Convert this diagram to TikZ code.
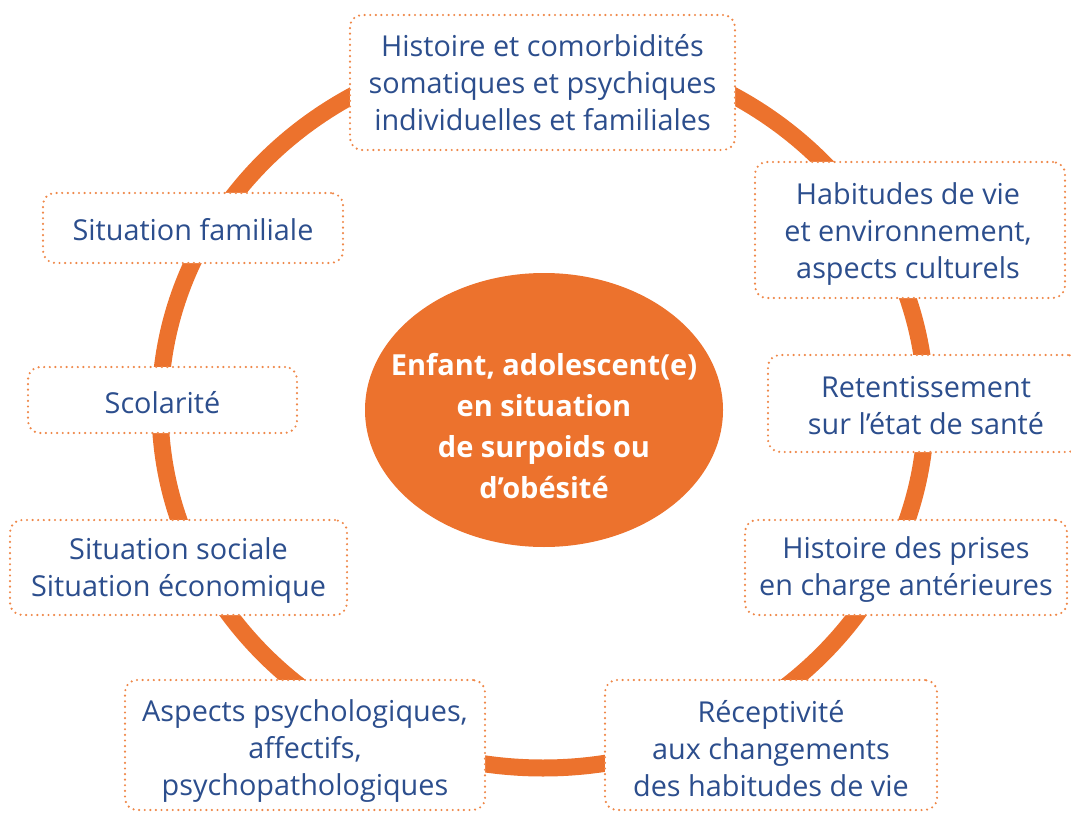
\documentclass[tikz,border=0pt]{standalone}
\usepackage{fontspec}
\setmainfont{Open Sans}
\usetikzlibrary{shapes.geometric}
\definecolor{ringorange}{HTML}{EC722D}
\definecolor{dotorange}{HTML}{EF8849}
\definecolor{textblue}{HTML}{2C4E8D}
\tikzset{
  frame/.style={rectangle, rounded corners=12pt, fill=white, draw=dotorange,
    line width=2.4pt, line cap=round, dash pattern=on 0pt off 5.6pt,
    inner sep=0pt},
  lbl/.style={align=center, text=textblue, inner sep=0pt,
    font=\fontsize{28.8}{37}\selectfont},
  centre/.style={ellipse, fill=ringorange, inner sep=0pt},
  centretext/.style={text=white, align=center, inner sep=0pt,
    font=\bfseries\fontsize{29}{41}\selectfont},
  ring/.style={draw=ringorange, line width=17pt}
}
\begin{document}
\begin{tikzpicture}[x=1pt,y=-1pt]
\useasboundingbox (0,0) rectangle (1071,813);
\clip (0,0) rectangle (1071,813);
% ring
\draw[ring] (543,408) ellipse [x radius=383, y radius=360];
% centre
\node[centre, minimum width=358pt, minimum height=274pt] (c) at (544,410) {};
\node[centretext] (ct) at (544,426)
  {Enfant, adolescent(e)\\en situation\\de surpoids ou\\d’obésité};
% frames
\node[frame, minimum width=385pt, minimum height=135pt] (t1) at (542.5,82.5) {};
\node[frame, minimum width=310pt, minimum height=136pt] (t2) at (910,230) {};
\node[frame, minimum width=312pt, minimum height=97pt] (t3) at (924,403.5) {};
\node[frame, minimum width=322pt, minimum height=95pt] (t4) at (906,567.5) {};
\node[frame, minimum width=332pt, minimum height=130pt] (t5) at (771,745) {};
\node[frame, minimum width=360pt, minimum height=130pt] (t6) at (305,745) {};
\node[frame, minimum width=337pt, minimum height=95pt] (t7) at (178.5,567.5) {};
\node[frame, minimum width=269pt, minimum height=66pt] (t8) at (162.5,400) {};
\node[frame, minimum width=300pt, minimum height=70pt] (t9) at (193,228) {};
% labels
\node[lbl] (l1) at (t1.center)
  {Histoire et comorbidités\\somatiques et psychiques\\individuelles et familiales};
\node[lbl] (l2) at ([xshift=-2pt,yshift=-4pt]t2.center)
  {Habitudes de vie\\et environnement,\\aspects culturels};
\node[lbl] (l3) at ([xshift=2pt,yshift=-2pt]t3.center)
  {Retentissement\\sur l’état de santé};
\node[lbl] (l4) at ([yshift=-2pt]t4.center)
  {Histoire des prises\\en charge antérieures};
\node[lbl] (l5) at ([yshift=-4pt]t5.center)
  {Réceptivité\\aux changements\\des habitudes de vie};
\node[lbl] (l6) at ([yshift=-6pt]t6.center)
  {Aspects psychologiques,\\affectifs,\\psychopathologiques};
\node[lbl] (l7) at ([yshift=-3pt]t7.center)
  {Situation sociale\\Situation économique};
\node[lbl] (l8) at ([yshift=-3pt]t8.center)
  {Scolarité};
\node[lbl] (l9) at ([yshift=-2pt]t9.center)
  {Situation familiale};
\end{tikzpicture}
\end{document}
